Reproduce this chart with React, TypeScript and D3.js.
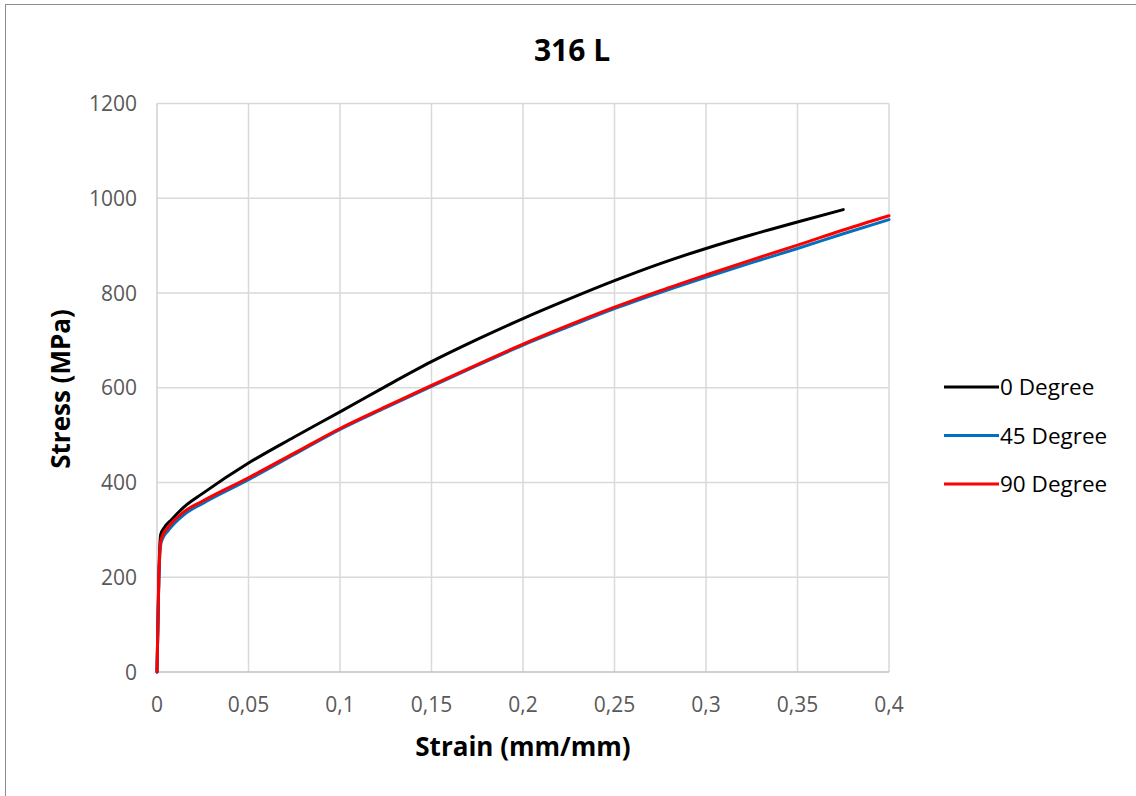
import React, { useEffect, useRef } from 'react';
import * as d3 from 'd3';

// Strain (mm/mm) / stress (MPa) readings for each orientation
const strain0 = [0, 0.0005, 0.001, 0.0015, 0.002, 0.004, 0.008, 0.015, 0.025, 0.05, 0.075, 0.1, 0.125, 0.15, 0.175, 0.2, 0.225, 0.25, 0.275, 0.3, 0.325, 0.35, 0.375];
const stress0 = [0, 100, 200, 262, 290, 305, 322, 349, 377, 441, 496, 549, 603, 655, 702, 746, 787, 826, 862, 894, 923, 950, 976];

const strain45 = [0, 0.0005, 0.001, 0.0015, 0.002, 0.003, 0.006, 0.015, 0.025, 0.05, 0.075, 0.1, 0.125, 0.15, 0.175, 0.2, 0.225, 0.25, 0.275, 0.3, 0.325, 0.35, 0.375, 0.4];
const stress45 = [0, 100, 195, 245, 268, 281, 298, 333, 356, 406, 459, 512, 558, 603, 647, 690, 729, 767, 801, 833, 864, 894, 925, 955];

const strain90 = [0, 0.0005, 0.001, 0.0015, 0.002, 0.003, 0.006, 0.015, 0.025, 0.05, 0.075, 0.1, 0.125, 0.15, 0.175, 0.2, 0.225, 0.25, 0.275, 0.3, 0.325, 0.35, 0.375, 0.4];
const stress90 = [0, 100, 200, 250, 275, 288, 305, 339, 361, 410, 462, 514, 560, 605, 649, 692, 732, 770, 805, 838, 870, 901, 933, 963];

const seriesNames = ['0 Degree', '45 Degree', '90 Degree'];
const seriesColors = ['#000000', '#0070c0', '#ff0000'];

const xTicks = [0, 0.05, 0.1, 0.15, 0.2, 0.25, 0.3, 0.35, 0.4];
const yTicks = [0, 200, 400, 600, 800, 1000, 1200];

const W = 1136;
const H = 796;

const App = () => {
  const svgRef = useRef<SVGSVGElement>(null);

  useEffect(() => {
    const svg = d3.select(svgRef.current);
    svg.selectAll('*').remove();

    const font = "'Open Sans', 'Noto Sans', sans-serif";

    // chart frame
    svg.append('rect')
      .attr('x', 5.5).attr('y', 4.5)
      .attr('width', W + 10).attr('height', H + 10)
      .attr('fill', '#fff')
      .attr('stroke', '#8c8c8c')
      .attr('stroke-width', 1);

    const x = d3.scaleLinear().domain([0, 0.4]).range([157, 889]);
    const y = d3.scaleLinear().domain([0, 1200]).range([672, 103.5]);

    // grid
    const g = svg.append('g');
    g.selectAll('.vgrid')
      .data(xTicks.slice(1))
      .enter().append('line')
      .attr('x1', d => x(d)).attr('x2', d => x(d))
      .attr('y1', y(0)).attr('y2', y(1200))
      .attr('stroke', '#d9d9d9').attr('stroke-width', 1.5);
    g.selectAll('.hgrid')
      .data(yTicks.slice(1))
      .enter().append('line')
      .attr('x1', x(0)).attr('x2', x(0.4))
      .attr('y1', d => y(d)).attr('y2', d => y(d))
      .attr('stroke', '#d9d9d9').attr('stroke-width', 1.5);

    // axis lines
    g.append('line')
      .attr('x1', x(0)).attr('x2', x(0.4))
      .attr('y1', y(0)).attr('y2', y(0))
      .attr('stroke', '#bfbfbf').attr('stroke-width', 1.5);
    g.append('line')
      .attr('x1', x(0)).attr('x2', x(0))
      .attr('y1', y(0)).attr('y2', y(1200))
      .attr('stroke', '#d0d0d0').attr('stroke-width', 1.5);

    // tick labels
    g.selectAll('.xlab')
      .data(xTicks)
      .enter().append('text')
      .attr('x', d => x(d))
      .attr('y', 712)
      .attr('text-anchor', 'middle')
      .style('font-family', font)
      .style('font-size', '21px')
      .style('fill', '#595959')
      .text(d => String(d).replace('.', ','));
    g.selectAll('.ylab')
      .data(yTicks)
      .enter().append('text')
      .attr('x', 137)
      .attr('y', d => y(d) + 7.5)
      .attr('text-anchor', 'end')
      .style('font-family', font)
      .style('font-size', '21px')
      .style('fill', '#595959')
      .text(d => d);

    // titles
    svg.append('text')
      .attr('x', 572).attr('y', 61)
      .attr('text-anchor', 'middle')
      .style('font-family', font)
      .style('font-size', '30px')
      .style('font-weight', 700)
      .style('fill', '#000')
      .text('316 L');
    svg.append('text')
      .attr('x', 523).attr('y', 756)
      .attr('text-anchor', 'middle')
      .style('font-family', font)
      .style('font-size', '26px')
      .style('font-weight', 700)
      .style('fill', '#000')
      .text('Strain (mm/mm)');
    svg.append('text')
      .attr('transform', `translate(70,389) rotate(-90)`)
      .attr('text-anchor', 'middle')
      .style('font-family', font)
      .style('font-size', '26px')
      .style('font-weight', 700)
      .style('fill', '#000')
      .text('Stress (MPa)');

    // curves
    const series = [
      strain0.map((s, i) => [s, stress0[i]]),
      strain45.map((s, i) => [s, stress45[i]]),
      strain90.map((s, i) => [s, stress90[i]]),
    ];
    const line = d3.line<number[]>()
      .x(d => x(d[0]))
      .y(d => y(d[1]))
      .curve(d3.curveMonotoneX);

    series.forEach((pts, i) => {
      svg.append('path')
        .datum(pts)
        .attr('d', line)
        .attr('fill', 'none')
        .attr('stroke', seriesColors[i])
        .attr('stroke-width', 3)
        .attr('stroke-linejoin', 'round')
        .attr('stroke-linecap', 'round');
    });

    // legend
    const legend = svg.append('g');
    seriesNames.forEach((name, i) => {
      const ly = 387 + i * 48.5;
      legend.append('line')
        .attr('x1', 944).attr('x2', 999)
        .attr('y1', ly).attr('y2', ly)
        .attr('stroke', seriesColors[i])
        .attr('stroke-width', 3);
      legend.append('text')
        .attr('x', 1000).attr('y', ly + 8)
        .style('font-family', font)
        .style('font-size', '22.5px')
        .style('fill', '#000')
        .text(name);
    });
  }, []);

  return (
    <svg
      ref={svgRef}
      width={W}
      height={H}
      style={{ position: 'absolute', left: 0, top: 0, background: '#fff' }}
    />
  );
};

export default App;
